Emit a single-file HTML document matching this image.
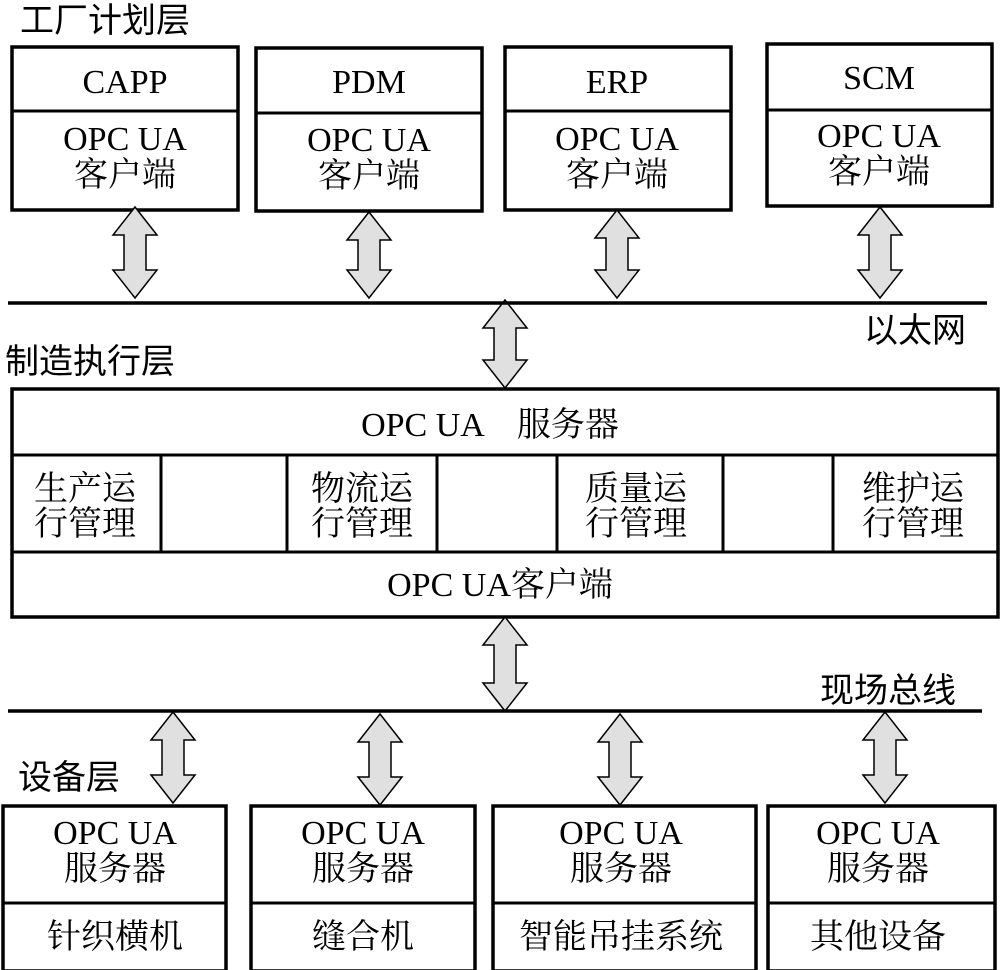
<!DOCTYPE html>
<html><head><meta charset="utf-8"><style>
html,body{margin:0;padding:0;background:#fff;}
svg{display:block;}
.t{font-family:"Liberation Serif","Noto Serif CJK SC",serif;font-size:34px;fill:#000;text-anchor:middle;}
.l{font-family:"Liberation Sans","Noto Sans CJK SC",sans-serif;font-size:34px;fill:#000;}
.b{fill:#fff;stroke:#000;stroke-width:3.5;}
.a{fill:#e0e0e0;stroke:#000;stroke-width:1.5;stroke-linejoin:miter;}
</style></head><body>
<svg width="1000" height="970" viewBox="0 0 1000 970" xmlns="http://www.w3.org/2000/svg">
<text class="l" x="20" y="32">工厂计划层</text>
<rect class="b" x="12" y="47" width="226" height="163"/><line x1="12" y1="111" x2="238" y2="111" stroke="#000" stroke-width="3"/>
<text class="t" x="125" y="93">CAPP</text><text class="t" x="125" y="150">OPC UA</text><text class="t" x="125" y="186">客户端</text>
<rect class="b" x="256" y="48" width="226" height="163"/><line x1="256" y1="113" x2="482" y2="113" stroke="#000" stroke-width="3"/>
<text class="t" x="369" y="93">PDM</text><text class="t" x="369" y="151">OPC UA</text><text class="t" x="369" y="187">客户端</text>
<rect class="b" x="505" y="47" width="226" height="163"/><line x1="505" y1="111" x2="731" y2="111" stroke="#000" stroke-width="3"/>
<text class="t" x="617" y="93">ERP</text><text class="t" x="617" y="150">OPC UA</text><text class="t" x="617" y="186">客户端</text>
<rect class="b" x="767" y="44" width="225" height="162"/><line x1="767" y1="110" x2="992" y2="110" stroke="#000" stroke-width="3"/>
<text class="t" x="879" y="89">SCM</text><text class="t" x="879" y="147">OPC UA</text><text class="t" x="879" y="183">客户端</text>
<path class="a" d="M135,207 L157,235 L146,235 L146,270 L157,270 L135,298 L113,270 L124,270 L124,235 L113,235 Z"/>
<path class="a" d="M369,212 L391,240 L380,240 L380,270 L391,270 L369,298 L347,270 L358,270 L358,240 L347,240 Z"/>
<path class="a" d="M617,210 L639,238 L628,238 L628,270 L639,270 L617,298 L595,270 L606,270 L606,238 L595,238 Z"/>
<path class="a" d="M880,207 L902,235 L891,235 L891,270 L902,270 L880,298 L858,270 L869,270 L869,235 L858,235 Z"/>
<path class="a" d="M505,300 L527,328 L516,328 L516,360 L527,360 L505,388 L483,360 L494,360 L494,328 L483,328 Z"/>
<line x1="8" y1="303" x2="987" y2="303" stroke="#000" stroke-width="3.5"/>
<text class="l" x="864" y="342">以太网</text>
<text class="l" x="5" y="373">制造执行层</text>
<rect class="b" x="12" y="389" width="986" height="228"/>
<line x1="12" y1="455" x2="998" y2="455" stroke="#000" stroke-width="3"/>
<line x1="12" y1="552" x2="998" y2="552" stroke="#000" stroke-width="3"/>
<g stroke="#000" stroke-width="3">
<line x1="161" y1="455" x2="161" y2="552"/><line x1="287" y1="455" x2="287" y2="552"/>
<line x1="437" y1="455" x2="437" y2="552"/><line x1="557" y1="455" x2="557" y2="552"/>
<line x1="723" y1="455" x2="723" y2="552"/><line x1="833" y1="455" x2="833" y2="552"/>
</g>
<text class="t" x="490" y="436">OPC UA　服务器</text>
<text class="t" x="85" y="500">生产运</text><text class="t" x="85" y="535">行管理</text>
<text class="t" x="362" y="500">物流运</text><text class="t" x="362" y="535">行管理</text>
<text class="t" x="636" y="500">质量运</text><text class="t" x="636" y="535">行管理</text>
<text class="t" x="913" y="500">维护运</text><text class="t" x="913" y="535">行管理</text>
<text class="t" x="500" y="596">OPC UA客户端</text>
<path class="a" d="M505,617 L527,645 L516,645 L516,683 L527,683 L505,711 L483,683 L494,683 L494,645 L483,645 Z"/>
<line x1="8" y1="711" x2="982" y2="711" stroke="#000" stroke-width="3.5"/>
<text class="l" x="820" y="702">现场总线</text>
<text class="l" x="18" y="789">设备层</text>
<path class="a" d="M173,712 L195,740 L184,740 L184,775 L195,775 L173,803 L151,775 L162,775 L162,740 L151,740 Z"/>
<path class="a" d="M380,714 L402,742 L391,742 L391,777 L402,777 L380,805 L358,777 L369,777 L369,742 L358,742 Z"/>
<path class="a" d="M620,714 L642,742 L631,742 L631,777 L642,777 L620,805 L598,777 L609,777 L609,742 L598,742 Z"/>
<path class="a" d="M885,712 L907,740 L896,740 L896,775 L907,775 L885,803 L863,775 L874,775 L874,740 L863,740 Z"/>
<rect class="b" x="3" y="806" width="223" height="165"/><line x1="3" y1="903" x2="226" y2="903" stroke="#000" stroke-width="3"/>
<text class="t" x="115" y="844">OPC UA</text><text class="t" x="115" y="880">服务器</text><text class="t" x="115" y="948">针织横机</text>
<rect class="b" x="251" y="806" width="224" height="165"/><line x1="251" y1="903" x2="475" y2="903" stroke="#000" stroke-width="3"/>
<text class="t" x="363" y="844">OPC UA</text><text class="t" x="363" y="880">服务器</text><text class="t" x="363" y="948">缝合机</text>
<rect class="b" x="493" y="806" width="263" height="165"/><line x1="493" y1="903" x2="756" y2="903" stroke="#000" stroke-width="3"/>
<text class="t" x="621" y="844">OPC UA</text><text class="t" x="621" y="880">服务器</text><text class="t" x="621" y="948">智能吊挂系统</text>
<rect class="b" x="768" y="806" width="227" height="165"/><line x1="768" y1="903" x2="995" y2="903" stroke="#000" stroke-width="3"/>
<text class="t" x="878" y="844">OPC UA</text><text class="t" x="878" y="880">服务器</text><text class="t" x="878" y="948">其他设备</text>
</svg>
</body></html>
